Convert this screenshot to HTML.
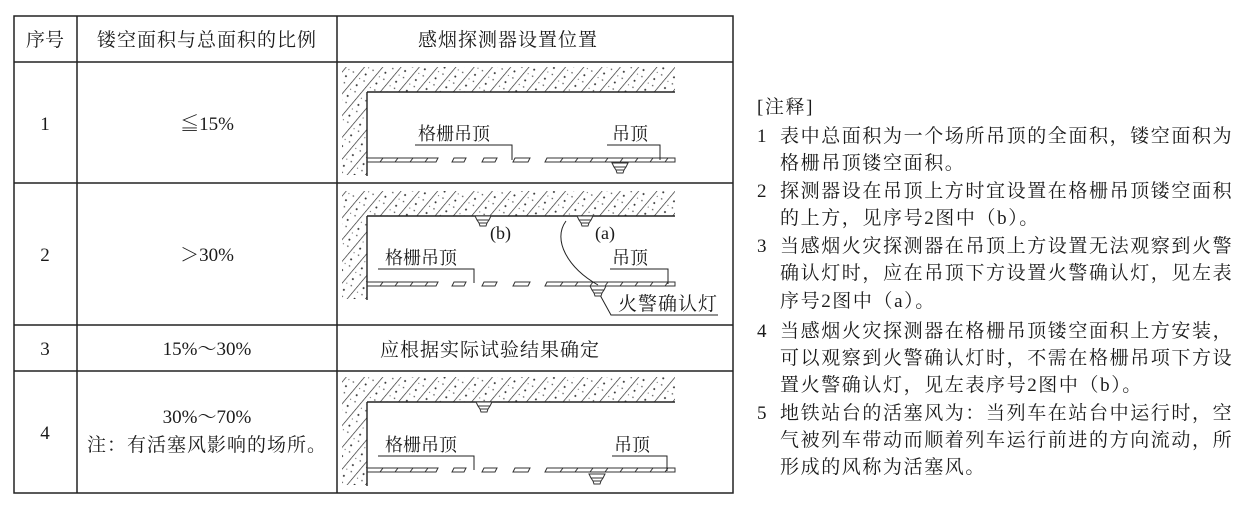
<!DOCTYPE html>
<html><head><meta charset="utf-8"><style>
html,body{margin:0;padding:0;background:#fff;}
svg{display:block;}
text{font-family:"Liberation Serif","Noto Serif CJK SC",serif;fill:#1a1a1a;}
.cj{font-family:"Noto Serif CJK SC",serif;}
</style></head><body>
<svg width="1255" height="508" viewBox="0 0 1255 508" xmlns="http://www.w3.org/2000/svg">
<defs>
<pattern id="h" width="14" height="14" patternUnits="userSpaceOnUse" patternTransform="rotate(40)">
<line x1="0" y1="0" x2="0" y2="14" stroke="#222" stroke-width="1.3"/>
<circle cx="6" cy="4" r="1" fill="#333"/><circle cx="9" cy="10" r="0.8" fill="#555"/><circle cx="4" cy="11" r="0.6" fill="#666"/>
</pattern>
<g id="det"><path d="M-8,0 H8 L6,4 H-6 Z M-6,4 H6 L4,7 H-4 Z M-4,7 H4 L3,10 H-3 Z" fill="#fff" stroke="#333" stroke-width="1"/></g>
<g id="det2"><path d="M-8,0 H8 L6,4 H-6 Z M-6,4 H6 L4,7 H-4 Z M-4,7 H4 L3,10 H-3 Z" fill="#fff" stroke="#333" stroke-width="1"/></g>
<g id="base">
<path d="M342,67 H675 V92 H367 V175 H342 Z" fill="url(#h)"/>
<path d="M367,92 H675 M367,92 V176" stroke="#222" stroke-width="1.4" fill="none"/>
<g stroke="#333" stroke-width="1" fill="none">
<path d="M367,158 H438 L436,162 H367"/>
<path d="M454,158 H466 L464,162 H452 Z"/>
<path d="M484,158 H497 L495,162 H482 Z"/>
<path d="M515,158 H530 L528,162 H513 Z"/>
<path d="M547,158 H675 V162 H545 Z"/>
<path d="M380,162 L383,158 M395,162 L398,158 M410,162 L413,158 M425,162 L428,158 M560,162 L563,158 M575,162 L578,158 M590,162 L593,158 M605,162 L608,158 M620,162 L623,158 M635,162 L638,158 M650,162 L653,158 M665,162 L668,158"/>
</g>
</g>
</defs>
<g stroke="#222" stroke-width="1.5" fill="none">
<rect x="14" y="16" width="719" height="477"/>
<path d="M77,16 V493 M337,16 V493 M14,62 H733 M14,183 H733 M14,325 H733 M14,371 H733"/>
</g>
<g font-size="19" text-anchor="middle">
<text x="45" y="46">序号</text>
<text x="207" y="46" letter-spacing="1">镂空面积与总面积的比例</text>
<text x="508" y="46" letter-spacing="1">感烟探测器设置位置</text>
<text x="45" y="130">1</text>
<text x="207" y="130"><tspan class="cj">≦</tspan>15%</text>
<text x="45" y="261">2</text>
<text x="207" y="261"><tspan class="cj">＞</tspan>30%</text>
<text x="45" y="355">3</text>
<text x="207" y="355">15%<tspan class="cj">～</tspan>30%</text>
<text x="490" y="356" letter-spacing="1">应根据实际试验结果确定</text>
<text x="45" y="439">4</text>
<text x="207" y="423">30%<tspan class="cj">～</tspan>70%</text>
<text x="207" y="451" letter-spacing="1">注：有活塞风影响的场所。</text>
</g>
<use href="#base"/>
<g stroke="#222" stroke-width="1" fill="none"><path d="M415,145 H512 V160 M607,145 H660 V160"/></g>
<text x="418" y="140" font-size="18">格栅吊顶</text>
<text x="612" y="140" font-size="18">吊顶</text>
<use href="#det2" x="620" y="163"/>
<use href="#base" y="124"/>
<g stroke="#222" stroke-width="1" fill="none"><path d="M378,269 H474 V283 M610,269 H668 V284 M566,221 C552,240 568,268 598,285 M600,295 L611,315 H718"/></g>
<use href="#det" x="483" y="216"/>
<use href="#det" x="585" y="216"/>
<text x="490" y="239" font-size="18">(b)</text>
<text x="595" y="239" font-size="18">(a)</text>
<text x="385" y="264" font-size="18">格栅吊顶</text>
<text x="612" y="264" font-size="18">吊顶</text>
<use href="#det2" x="598" y="286"/>
<text x="618" y="310" font-size="19" letter-spacing="1">火警确认灯</text>
<use href="#base" y="310"/>
<g stroke="#222" stroke-width="1" fill="none"><path d="M378,456 H474 V470 M612,456 H667 V471"/></g>
<use href="#det" x="484" y="402"/>
<text x="385" y="451" font-size="18">格栅吊顶</text>
<text x="614" y="451" font-size="18">吊顶</text>
<use href="#det2" x="597" y="474"/>
<g font-size="19" letter-spacing="1.6">
<text x="757" y="113">[注释]</text>
<text x="757" y="142">1</text><text x="780" y="142">表中总面积为一个场所吊顶的全面积，镂空面积为</text>
<text x="780" y="169">格栅吊顶镂空面积。</text>
<text x="757" y="197">2</text><text x="780" y="197">探测器设在吊顶上方时宜设置在格栅吊顶镂空面积</text>
<text x="780" y="224">的上方，见序号2图中（b）。</text>
<text x="757" y="252">3</text><text x="780" y="252">当感烟火灾探测器在吊顶上方设置无法观察到火警</text>
<text x="780" y="279">确认灯时，应在吊顶下方设置火警确认灯，见左表</text>
<text x="780" y="307">序号2图中（a）。</text>
<text x="757" y="337">4</text><text x="780" y="337">当感烟火灾探测器在格栅吊顶镂空面积上方安装，</text>
<text x="780" y="364">可以观察到火警确认灯时，不需在格栅吊项下方设</text>
<text x="780" y="391">置火警确认灯，见左表序号2图中（b）。</text>
<text x="757" y="419">5</text><text x="780" y="419">地铁站台的活塞风为：当列车在站台中运行时，空</text>
<text x="780" y="446">气被列车带动而顺着列车运行前进的方向流动，所</text>
<text x="780" y="473">形成的风称为活塞风。</text>
</g>
</svg>
</body></html>
